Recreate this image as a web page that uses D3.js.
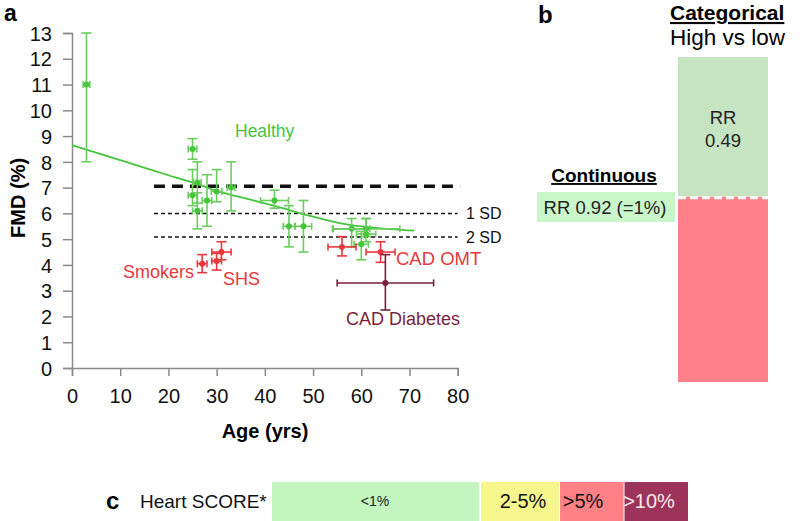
<!DOCTYPE html>
<html>
<head>
<meta charset="utf-8">
<script src="https://cdn.jsdelivr.net/npm/d3@7"></script>
<style>
  body { margin: 0; background: #fff; }
  svg { display: block; font-family: "Liberation Sans", Arial, sans-serif; }
</style>
</head>
<body>
<svg id="chart" width="800" height="521"></svg>
<script>
// [age, fmd, ageErr, fmdLow, fmdHigh]
const healthy = [
  [3, 11.0, 0.7, 8.0, 13.0],
  [25, 8.5, 0.9, 8.1, 8.9],
  [26, 7.2, 0.8, 6.4, 8.0],
  [25, 6.7, 0.9, 6.3, 7.7],
  [28, 6.5, 1.0, 5.5, 7.5],
  [26, 6.1, 1.0, 5.4, 6.8],
  [30, 6.85, 1.1, 6.45, 7.7],
  [33, 7.0, 0.8, 6.1, 8.0],
  [42, 6.5, 2.9, 6.2, 6.9],
  [45, 5.5, 1.2, 4.7, 6.3],
  [48, 5.5, 1.7, 4.5, 6.5],
  [58, 5.4, 3.8, 4.7, 5.8],
  [61, 5.4, 7.0, 5.1, 5.8],
  [61, 5.2, 2.0, 4.9, 5.8],
  [60, 4.8, 1.5, 4.2, 5.3]
];
const exposed = [
  [27, 4.05, 1.0, 3.7, 4.4],
  [30, 4.15, 1.0, 3.8, 4.45],
  [31, 4.5, 2.0, 4.2, 4.9],
  [56, 4.7, 2.9, 4.35, 5.1],
  [64, 4.5, 3.0, 4.1, 4.9]
];
const diabetes = [
  [65, 3.3, 10, 2.25, 4.4]
];
// fitted curve, [age, fmd]
const healthyFit = [
  [0, 8.65], [10, 8.07], [20, 7.48], [26.6, 7.1], [30, 6.87], [36, 6.58],
  [42, 6.29], [50, 5.87], [56, 5.6], [64, 5.42], [71, 5.33]
];
// reference lines: [fmd, label]
const refLines = [[7.05, ""], [6.0, "1 SD"], [5.08, "2 SD"]];
const xTicks = d3.range(0, 81, 10);
const yTicks = d3.range(0, 14, 1);

// panel b
const continuousLabel = "RR 0.92 (=1%)";
const categoricalLabel = ["RR", "0.49"];

// panel c
const scoreCats = ["<1%", "2-5%", ">5%", ">10%"];
const scoreEdges = [0, 1, 1.38, 1.69, 2.0];

const svg = d3.select("#chart");
const x = d3.scaleLinear().domain([0, 80]).range([72, 457.7]);
const y = d3.scaleLinear().domain([0, 13]).range([368, 33]);

const axisColor = "#8a8a8a";
const green = "#45c43c", greenBar = "#6acd5f";
const red = "#e8383d", darkRed = "#7a1f3e";

// ---- panel a ----
svg.append("text").attr("x", 4).attr("y", 21)
  .attr("font-size", 23).attr("font-weight", "bold").text("a");

const yAxis = svg.append("g").attr("transform", `translate(${x(0)},0)`)
  .call(d3.axisLeft(y).tickValues(yTicks).tickSize(9).tickPadding(11));
const xAxis = svg.append("g").attr("transform", `translate(0,${y(0)})`)
  .call(d3.axisBottom(x).tickValues(xTicks).tickSize(8).tickPadding(12));
[xAxis, yAxis].forEach(g => {
  g.select(".domain").attr("stroke", axisColor).attr("stroke-width", 1.5);
  g.selectAll(".tick line").attr("stroke", axisColor).attr("stroke-width", 1.5);
  g.selectAll(".tick text").attr("font-size", 20).attr("fill", "#111")
    .attr("font-family", "Liberation Sans, Arial, sans-serif");
});
yAxis.selectAll(".tick text").attr("dy", "0.36em");
xAxis.selectAll(".tick text").attr("dy", "0.75em");

svg.append("text").attr("transform", `translate(25,${y(6.6)}) rotate(-90)`)
  .attr("text-anchor", "middle").attr("font-size", 20).attr("font-weight", "bold").text("FMD (%)");
svg.append("text").attr("x", 265).attr("y", 438)
  .attr("text-anchor", "middle").attr("font-size", 20).attr("font-weight", "bold").text("Age (yrs)");

// reference dashed lines
svg.selectAll(".ref").data(refLines).join("line")
  .attr("x1", x(17)).attr("x2", (d, i) => i === 0 ? x(80.5) : x(80))
  .attr("y1", d => y(d[0])).attr("y2", d => y(d[0]))
  .attr("stroke", "#111")
  .attr("stroke-width", (d, i) => i === 0 ? 3.5 : 1.5)
  .attr("stroke-dasharray", (d, i) => i === 0 ? "11,7" : "4,3");
svg.selectAll(".refLabel").data(refLines.filter(d => d[1])).join("text")
  .attr("x", 466).attr("y", d => y(d[0]) + 6)
  .attr("font-size", 16).attr("fill", "#111").text(d => d[1]);

function drawGroup(data, barColor, dotColor) {
  const g = svg.append("g");
  data.forEach(d => {
    const [age, fmd, ae, lo, hi] = d;
    const cx = x(age), cy = y(fmd);
    const seg = [
      [x(age - ae), cy, x(age + ae), cy],
      [x(age - ae), cy - 3.5, x(age - ae), cy + 3.5],
      [x(age + ae), cy - 3.5, x(age + ae), cy + 3.5],
      [cx, y(lo), cx, y(hi)],
      [cx - 5, y(lo), cx + 5, y(lo)],
      [cx - 5, y(hi), cx + 5, y(hi)]
    ];
    g.selectAll(null).data(seg).join("line")
      .attr("x1", s => s[0]).attr("y1", s => s[1])
      .attr("x2", s => s[2]).attr("y2", s => s[3])
      .attr("stroke", barColor).attr("stroke-width", 1.6);
    g.append("circle").attr("cx", cx).attr("cy", cy).attr("r", 3).attr("fill", dotColor);
  });
}

svg.append("path").datum(healthyFit)
  .attr("d", d3.line().x(d => x(d[0])).y(d => y(d[1])).curve(d3.curveMonotoneX))
  .attr("fill", "none").attr("stroke", green).attr("stroke-width", 1.8);

drawGroup(healthy, greenBar, green);
drawGroup(exposed, red, red);
drawGroup(diabetes, darkRed, darkRed);

const labels = [
  ["Healthy", 235, 137, green, 17.5],
  ["Smokers", 123, 278, red, 18],
  ["SHS", 223, 285, red, 18],
  ["CAD OMT", 396, 265, red, 18.5],
  ["CAD Diabetes", 346, 325, darkRed, 18]
];
svg.selectAll(".lbl").data(labels).join("text")
  .attr("x", d => d[1]).attr("y", d => d[2]).attr("fill", d => d[3])
  .attr("font-size", d => d[4]).text(d => d[0]);

// ---- panel b ----
svg.append("text").attr("x", 538).attr("y", 23)
  .attr("font-size", 24).attr("font-weight", "bold").text("b");
svg.append("text").attr("x", 670).attr("y", 20)
  .attr("font-size", 21).attr("font-weight", "bold").attr("text-decoration", "underline")
  .text("Categorical");
svg.append("text").attr("x", 670).attr("y", 45)
  .attr("font-size", 22.5).text("High vs low");

const bRect = d3.scaleLinear().domain([0, 1]).range([57, 382]);
svg.append("rect").attr("x", 678).attr("width", 90)
  .attr("y", bRect(0)).attr("height", bRect(0.43) - bRect(0)).attr("fill", "#c6e3c2");
svg.append("rect").attr("x", 678).attr("width", 90)
  .attr("y", bRect(0.43)).attr("height", bRect(1) - bRect(0.43)).attr("fill", "#ff8088");
svg.append("line").attr("x1", 678).attr("x2", 768)
  .attr("y1", bRect(0.43) + 1).attr("y2", bRect(0.43) + 1)
  .attr("stroke", "#fff").attr("stroke-width", 3).attr("stroke-dasharray", "8,4");
svg.selectAll(".catLbl").data(categoricalLabel).join("text")
  .attr("x", 723).attr("y", (d, i) => 124 + i * 23)
  .attr("text-anchor", "middle").attr("font-size", 18.5).attr("fill", "#222").text(d => d);

svg.append("text").attr("x", 604).attr("y", 182)
  .attr("text-anchor", "middle").attr("font-size", 19).attr("font-weight", "bold")
  .attr("text-decoration", "underline").text("Continuous");
svg.append("rect").attr("x", 537).attr("y", 192).attr("width", 138).attr("height", 30)
  .attr("fill", "#c9f7c9");
svg.append("text").attr("x", 605).attr("y", 214)
  .attr("text-anchor", "middle").attr("font-size", 18.5).attr("fill", "#222").text(continuousLabel);

// ---- panel c ----
svg.append("text").attr("x", 106).attr("y", 509)
  .attr("font-size", 24).attr("font-weight", "bold").text("c");
svg.append("text").attr("x", 140).attr("y", 508)
  .attr("font-size", 19).attr("fill", "#111").text("Heart SCORE*");

const cx = d3.scaleLinear().domain([0, 2]).range([272, 688]);
const cFill = ["#c3f7bf", "#f7f78e", "#ff8085", "#9c3358"];
const cText = [["#222", 14, 375], ["#111", 20, 523], ["#111", 20, 583], ["#fbe8ee", 20, 649]];
svg.selectAll(".score").data(scoreCats).join("rect")
  .attr("x", (d, i) => cx(scoreEdges[i]) + (i ? 1 : 0))
  .attr("width", (d, i) => cx(scoreEdges[i + 1]) - cx(scoreEdges[i]) - (i ? 1 : 0) - (i === 0 ? 1 : 0))
  .attr("y", 482).attr("height", 40)
  .attr("fill", (d, i) => cFill[i]);
svg.selectAll(".scoreLbl").data(scoreCats).join("text")
  .attr("x", (d, i) => cText[i][2]).attr("y", (d, i) => 501 + cText[i][1] * 0.36)
  .attr("text-anchor", "middle").attr("font-size", (d, i) => cText[i][1])
  .attr("fill", (d, i) => cText[i][0]).text(d => d);
</script>
</body>
</html>
